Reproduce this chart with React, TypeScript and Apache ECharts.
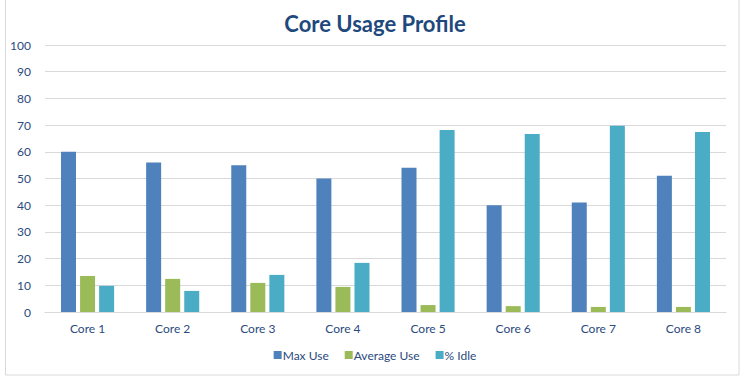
import React, { useEffect, useRef } from "react";
import * as echarts from "echarts";

const categories = ["Core 1", "Core 2", "Core 3", "Core 4", "Core 5", "Core 6", "Core 7", "Core 8"];
const maxUse = [60, 56, 55, 50, 54, 40, 41, 51];
const averageUse = [13.5, 12.4, 10.9, 9.4, 2.6, 2.2, 1.9, 1.9];
const idle = [9.8, 7.9, 13.9, 18.4, 68.2, 66.7, 69.8, 67.4];
const seriesNames = ["Max Use", "Average Use", "% Idle"];
const colors = ["#4F81BD", "#9BBB59", "#4BACC6"];

const FONT = "Lato, 'Open Sans', sans-serif";
const LABEL = "#2B4A7E";

export default function App() {
  const ref = useRef<HTMLDivElement>(null);
  useEffect(() => {
    document.body.style.margin = "0";
    const chart = echarts.init(ref.current!, null, { renderer: "svg" });
    const data = [maxUse, averageUse, idle];
    chart.setOption({
      animation: false,
      backgroundColor: "#ffffff",
      title: {
        text: "Core Usage Profile",
        left: "center",
        top: 7,
        textStyle: { fontFamily: FONT, fontSize: 22, fontWeight: "bold", color: "#1F497D" },
      },
      legend: {
        bottom: 15,
        left: "center",
        itemWidth: 8,
        itemHeight: 8,
        itemGap: 16,
        icon: "rect",
        textStyle: { fontFamily: FONT, fontSize: 12, color: LABEL, padding: [0, 0, 0, -4] },
        data: seriesNames,
      },
      grid: { left: 45, right: 24, top: 45, bottom: 69, containLabel: false },
      xAxis: {
        type: "category",
        data: categories,
        axisTick: { show: false },
        axisLine: { lineStyle: { color: "#D9D9D9" } },
        axisLabel: { fontFamily: FONT, fontSize: 12, color: LABEL, margin: 10 },
      },
      yAxis: {
        type: "value",
        min: 0,
        max: 100,
        interval: 10,
        axisLine: { show: false },
        axisTick: { show: false },
        splitLine: { lineStyle: { color: "#D9D9D9" } },
        axisLabel: { fontFamily: FONT, fontSize: 12, color: LABEL, margin: 14 },
      },
      graphic: [
        {
          type: "rect",
          shape: { x: 5.5, y: -5, width: 733.5, height: 380 },
          style: { fill: "none", stroke: "#D9D9D9", lineWidth: 1 },
          silent: true,
        },
      ],
      series: seriesNames.map((name, i) => ({
        name,
        type: "bar",
        data: data[i],
        barWidth: 15,
        barGap: "27%",
        itemStyle: { color: colors[i] },
      })),
    });
    return () => chart.dispose();
  }, []);
  return <div ref={ref} style={{ width: 750, height: 381 }} />;
}
